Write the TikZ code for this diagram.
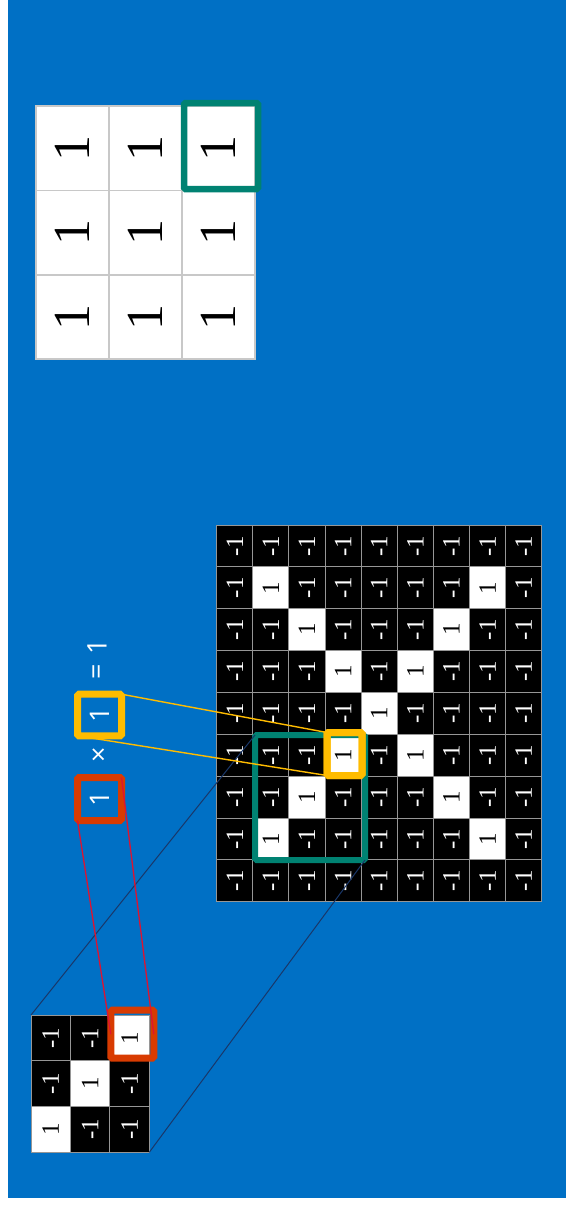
\documentclass[tikz,border=0pt]{standalone}
\usepackage{fontspec}
\setmainfont{Liberation Serif}
\newfontfamily\eqfont{Open Sans}
\usepackage{graphicx}
\definecolor{bgblue}{RGB}{0,112,197}
\definecolor{tealgreen}{RGB}{0,130,114}
\definecolor{gold}{RGB}{255,188,0}
\definecolor{orangered}{RGB}{216,59,1}
\definecolor{redline}{RGB}{220,20,50}
\definecolor{navyline}{RGB}{25,55,105}
\definecolor{gridgray}{RGB}{150,150,150}
\definecolor{filtergray}{RGB}{200,200,200}
\begin{document}
\begin{tikzpicture}[x=1pt,y=-1pt,
  cell/.style={draw=gridgray, line width=1pt, inner sep=0pt, outer sep=0pt,
    font=\fontsize{25pt}{29pt}\selectfont},
  onecell/.style={cell, fill=white, text=black},
  negcell/.style={cell, fill=black, text=white},
  fcell/.style={draw=filtergray, line width=1.5pt, fill=white, text=black,
    inner sep=0pt, outer sep=0pt, font=\fontsize{52pt}{58pt}\selectfont},
  hibox/.style={line width=#1, inner sep=0pt, outer sep=0pt, rounded corners=1.5pt},
  eqtext/.style={text=white, inner sep=0pt, font=\eqfont\fontsize{27pt}{31pt}\selectfont},
  redconn/.style={draw=redline, line width=1.3pt},
  goldconn/.style={draw=gold, line width=1.4pt},
  navyconn/.style={draw=navyline, line width=1pt}]
\useasboundingbox (0,0) rectangle (566,1207);
\fill[white] (0,0) rectangle (566,1207);
\fill[bgblue] (7.5,0) rectangle (566,1197.5);

% filter (all ones)
\foreach \r in {1,2,3} \foreach \c in {1,2,3} {
  \node[fcell, minimum width=73pt, minimum height=84.4pt] (f-\r-\c)
    at ({36+73*(\c-0.5)},{106+84.4*(\r-0.5)}) {\rotatebox{90}{1}};
}
\node[hibox=6.5pt, draw=tealgreen, minimum width=74pt, minimum height=86pt] (fbox) at (221,146) {};

% big X image
\foreach \r in {1,...,9} \foreach \c in {1,...,9} {
  \pgfmathtruncatemacro\isone{and(and(\r>1,\r<9),or(\c==\r,\c==10-\r))}
  \ifnum\isone=1
    \node[onecell, minimum width=36.11pt, minimum height=41.86pt] (g-\r-\c)
      at ({216.7+36.11*(\c-0.5)},{525+41.86*(\r-0.5)}) {\rotatebox{90}{1}};
  \else
    \node[negcell, minimum width=36.11pt, minimum height=41.86pt] (g-\r-\c)
      at ({216.7+36.11*(\c-0.5)},{525+41.86*(\r-0.5)}) {\rotatebox{90}{-1}};
  \fi
}

% small patch
\foreach \r in {1,2,3} \foreach \c in {1,2,3} {
  \pgfmathtruncatemacro\isone{(\r+\c==4)}
  \ifnum\isone=1
    \node[onecell, minimum width=39.4pt, minimum height=45.8pt] (p-\r-\c)
      at ({31+39.4*(\c-0.5)},{1015+45.8*(\r-0.5)}) {\rotatebox{90}{1}};
  \else
    \node[negcell, minimum width=39.4pt, minimum height=45.8pt] (p-\r-\c)
      at ({31+39.4*(\c-0.5)},{1015+45.8*(\r-0.5)}) {\rotatebox{90}{-1}};
  \fi
}

% green window on the image
\node[hibox=6pt, draw=tealgreen, minimum width=110pt, minimum height=125pt] (gbox) at (310,797.5) {};

% navy projection lines
\draw[navyconn] (p-1-1.north west) -- (gbox.north west);
\draw[navyconn] (p-3-3.south east) -- (gbox.south east);

% equation boxes
\node[hibox=7pt, draw=gold, minimum width=44pt, minimum height=41.6pt, eqtext] (ytop) at (99.5,715) {\rotatebox{90}{1}};
\node[hibox=7pt, draw=orangered, minimum width=44pt, minimum height=43pt, eqtext] (rtop) at (99.5,799) {\rotatebox{90}{1}};
\node[eqtext] (times) at (100,755) {\rotatebox{90}{×}};
\node[eqtext] (equals) at (99,672) {\rotatebox{90}{=}};
\node[eqtext] (result) at (97,647) {\rotatebox{90}{1}};

% gold window on the image and gold lines
\node[hibox=7pt, draw=gold, minimum width=35pt, minimum height=43pt] (ybox) at (344.5,754) {};
\draw[goldconn] (ytop.north east) -- (ybox.north west);
\draw[goldconn] (ytop.south west) -- (ybox.south west);
\node[hibox=7pt, draw=gold, minimum width=35pt, minimum height=43pt] at (ybox.center) {};

% red box on the patch
\node[hibox=7pt, draw=orangered, minimum width=43pt, minimum height=48pt] (rsmall) at (132.3,1034.2) {};
\draw[redconn] (rtop.south west) -- (rsmall.west);
\draw[redconn] (rtop.north east) -- (rsmall.east);
\end{tikzpicture}
\end{document}
